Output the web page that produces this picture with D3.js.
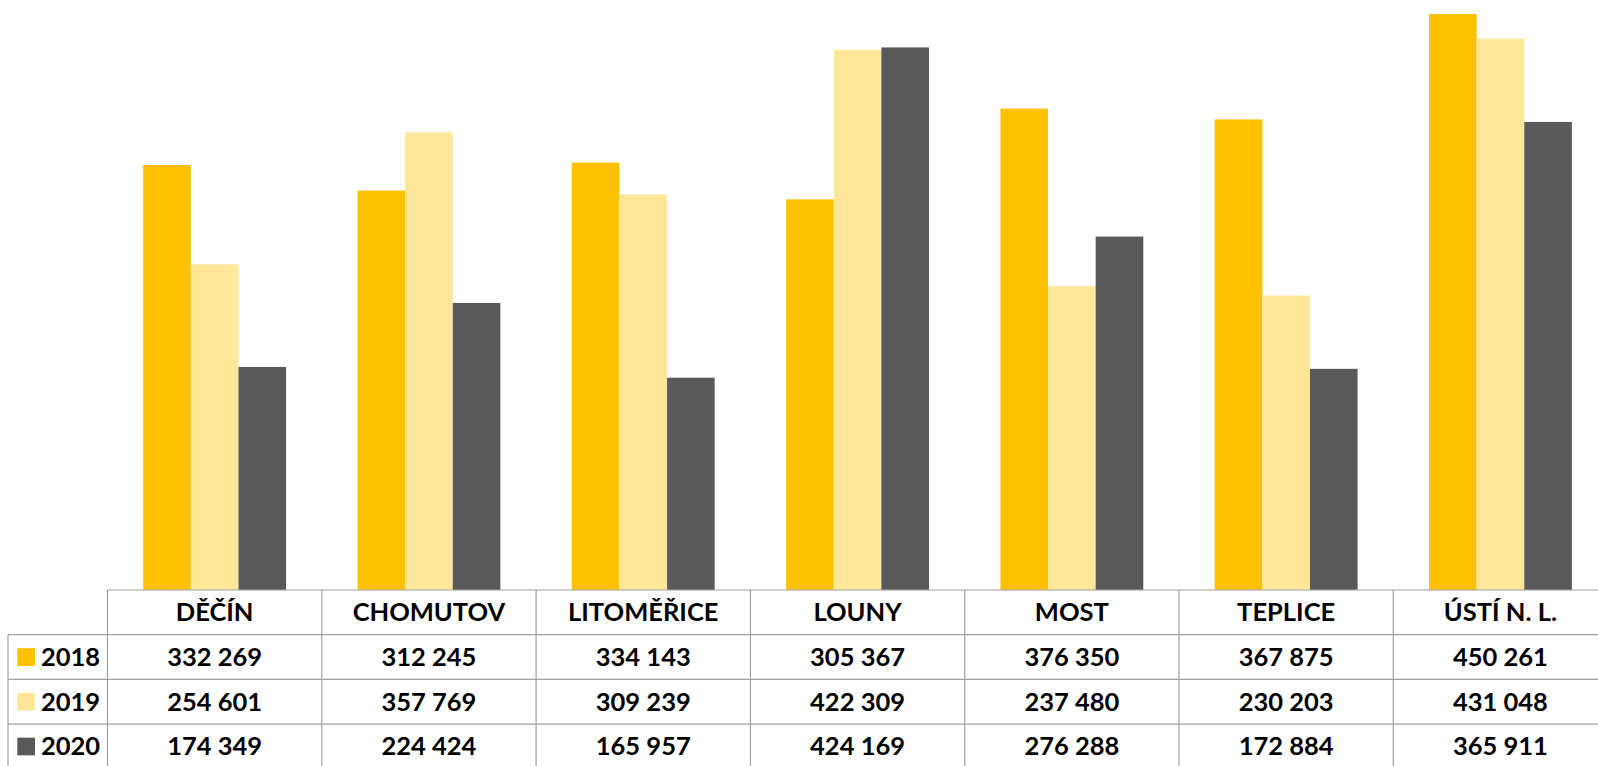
<!DOCTYPE html>
<html>
<head>
<meta charset="utf-8">
<script src="https://cdn.jsdelivr.net/npm/d3@7"></script>
<style>
  html, body { margin: 0; padding: 0; background: #fff; overflow: hidden; }
  svg { display: block; }
</style>
</head>
<body>
<svg id="chart"></svg>
<script>
var districts = ["DĚČÍN", "CHOMUTOV", "LITOMĚŘICE", "LOUNY", "MOST", "TEPLICE", "ÚSTÍ N. L."];
var years = ["2018", "2019", "2020"];
var values2018 = [332269, 312245, 334143, 305367, 376350, 367875, 450261];
var values2019 = [254601, 357769, 309239, 422309, 237480, 230203, 431048];
var values2020 = [174349, 224424, 165957, 424169, 276288, 172884, 365911];
var colors = ["#FFC000", "#FFE699", "#595959"];

var series = [values2018, values2019, values2020];

var width = 1598,
  height = 766;

var left = 107.5,
  colW = 214.3,
  base = 590,
  rowH = 44.7;

var svg = d3.select("#chart")
  .attr("width", width)
  .attr("height", height);

var x = d3.scaleBand()
  .domain(districts)
  .range([left, left + colW * districts.length])
  .padding(0);

var xInner = d3.scaleBand()
  .domain(years)
  .range([0, colW])
  .paddingInner(0)
  .paddingOuter(0.75);

var y = d3.scaleLinear()
  .domain([0, 500000])
  .range([base, base - 500000 * 0.0012792]);

var color = d3.scaleOrdinal().domain(years).range(colors);

var fmt = d3.formatLocale({ decimal: ",", thousands: " ", grouping: [3], currency: ["", ""] }).format(",d");

// bars
years.forEach(function(yr, i) {
  svg.append("g")
    .selectAll("rect")
    .data(series[i])
    .enter().append("rect")
    .attr("x", function(d, j) { return x(districts[j]) + xInner(yr); })
    .attr("y", function(d) { return y(d); })
    .attr("width", xInner.bandwidth())
    .attr("height", function(d) { return y(0) - y(d); })
    .attr("fill", color(yr));
});

// data table
var grid = svg.append("g")
  .attr("stroke", "#a0a0a0")
  .attr("stroke-width", 1.2)
  .attr("fill", "none");

var right = left + colW * districts.length;
grid.append("line").attr("x1", left).attr("x2", right).attr("y1", base).attr("y2", base);
for (var r = 1; r <= years.length; r++) {
  grid.append("line").attr("x1", 8).attr("x2", right)
    .attr("y1", base + r * rowH).attr("y2", base + r * rowH);
}
grid.append("line").attr("x1", 8).attr("x2", 8)
  .attr("y1", base + rowH).attr("y2", base + (years.length + 1) * rowH);
districts.concat([null]).forEach(function(d, j) {
  var xx = left + j * colW;
  grid.append("line").attr("x1", xx).attr("x2", xx)
    .attr("y1", base).attr("y2", base + (years.length + 1) * rowH);
});

var txt = svg.append("g")
  .attr("font-family", "Lato, 'Open Sans', sans-serif")
  .attr("font-weight", "bold")
  .attr("font-size", 25.5)
  .attr("fill", "#000");

txt.selectAll("text.head")
  .data(districts)
  .enter().append("text")
  .attr("class", "head")
  .attr("x", function(d) { return x(d) + x.bandwidth() / 2; })
  .attr("y", base + rowH / 2 + 9)
  .attr("text-anchor", "middle")
  .text(function(d) { return d; });

years.forEach(function(yr, i) {
  var cy = base + (i + 1) * rowH + rowH / 2;
  svg.append("rect")
    .attr("x", 17.3)
    .attr("y", cy - 8.8)
    .attr("width", 17.7)
    .attr("height", 17.7)
    .attr("fill", color(yr));
  txt.append("text")
    .attr("x", 41)
    .attr("y", cy + 9)
    .text(yr);
  txt.append("g").selectAll("text")
    .data(series[i])
    .enter().append("text")
    .attr("x", function(d, j) { return x(districts[j]) + x.bandwidth() / 2; })
    .attr("y", cy + 9)
    .attr("text-anchor", "middle")
    .text(function(d) { return fmt(d); });
});
</script>
</body>
</html>
